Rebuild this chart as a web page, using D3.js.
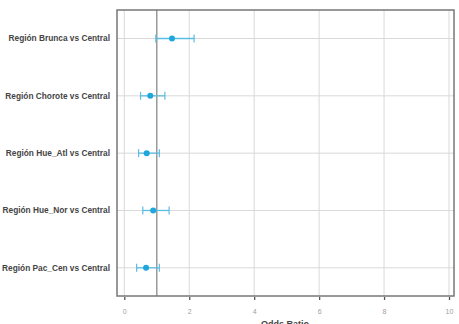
<!DOCTYPE html>
<html>
<head>
<meta charset="utf-8">
<script src="https://cdn.jsdelivr.net/npm/d3@7"></script>
<style>
  body { margin: 0; background: #fff; }
  svg { display: block; font-family: "Liberation Sans", Arial, sans-serif; }
</style>
</head>
<body>
<svg id="chart" width="459" height="324"></svg>
<script>
// odds ratios
var labels = ["Región Brunca vs Central", "Región Chorote vs Central", "Región Hue_Atl vs Central",
              "Región Hue_Nor vs Central", "Región Pac_Cen vs Central"];
var estimate = [1.47, 0.80, 0.69, 0.89, 0.67];
var lower = [0.97, 0.50, 0.44, 0.57, 0.38];
var upper = [2.15, 1.25, 1.08, 1.38, 1.08];
var xTicks = [0, 2, 4, 6, 8, 10];

var rows = labels.map(function(l, i) {
  return {label: l, est: estimate[i], lo: lower[i], hi: upper[i]};
});

var svg = d3.select("#chart");
var panel = {left: 117, right: 454, top: 10, bottom: 296};

var x = d3.scaleLinear().domain([0, 10]).range([124.3, 449]);
var y = d3.scalePoint().domain(labels).range([38.5, 267.8]);

// grid
svg.append("g").selectAll("line").data(xTicks).enter().append("line")
  .attr("x1", function(d){ return x(d); }).attr("x2", function(d){ return x(d); })
  .attr("y1", panel.top).attr("y2", panel.bottom)
  .attr("stroke", "#d9d9d9").attr("stroke-width", 1);
svg.append("g").selectAll("line").data(labels).enter().append("line")
  .attr("x1", panel.left).attr("x2", panel.right)
  .attr("y1", function(d){ return y(d); }).attr("y2", function(d){ return y(d); })
  .attr("stroke", "#d9d9d9").attr("stroke-width", 1);

// reference line at 1
svg.append("line")
  .attr("x1", x(1)).attr("x2", x(1))
  .attr("y1", panel.top).attr("y2", panel.bottom)
  .attr("stroke", "#999").attr("stroke-width", 1.5);

// panel border
svg.append("rect")
  .attr("x", panel.left).attr("y", panel.top)
  .attr("width", panel.right - panel.left).attr("height", panel.bottom - panel.top)
  .attr("fill", "none").attr("stroke", "#777").attr("stroke-width", 1.5);

// error bars
var g = svg.append("g").selectAll("g").data(rows).enter().append("g");
g.append("line")
  .attr("x1", function(d){ return x(d.lo); }).attr("x2", function(d){ return x(d.hi); })
  .attr("y1", function(d){ return y(d.label); }).attr("y2", function(d){ return y(d.label); })
  .attr("stroke", "#5cbde3").attr("stroke-width", 1.3);
g.selectAll("line.cap").data(function(d){ return [{v: d.lo, l: d.label}, {v: d.hi, l: d.label}]; })
  .enter().append("line").attr("class", "cap")
  .attr("x1", function(d){ return x(d.v); }).attr("x2", function(d){ return x(d.v); })
  .attr("y1", function(d){ return y(d.l) - 4; }).attr("y2", function(d){ return y(d.l) + 4; })
  .attr("stroke", "#5cbde3").attr("stroke-width", 1.2);
g.append("circle")
  .attr("cx", function(d){ return x(d.est); })
  .attr("cy", function(d){ return y(d.label); })
  .attr("r", 3)
  .attr("fill", "#1fa6da");

// y labels
svg.append("g").selectAll("text").data(labels).enter().append("text")
  .attr("x", 110).attr("y", function(d){ return y(d); })
  .attr("dy", "0.35em")
  .attr("text-anchor", "end")
  .attr("font-size", 8.3).attr("font-weight", "bold")
  .attr("fill", "#444")
  .text(function(d){ return d; });

// x axis
var xAxis = d3.axisBottom(x).tickValues(xTicks).tickSize(3).tickPadding(9);
var ax = svg.append("g").attr("transform", "translate(0," + (panel.bottom + 1) + ")").call(xAxis);
ax.select(".domain").remove();
ax.selectAll(".tick line").attr("stroke", "#555").attr("stroke-width", 1.3);
ax.selectAll(".tick text").attr("fill", "#a0a0a0").attr("font-size", 7)
  .attr("font-family", "Liberation Sans, Arial, sans-serif");

svg.append("text")
  .attr("x", 285).attr("y", 327)
  .attr("text-anchor", "middle")
  .attr("font-size", 9).attr("font-weight", "bold").attr("fill", "#444")
  .text("Odds Ratio");
</script>
</body>
</html>
